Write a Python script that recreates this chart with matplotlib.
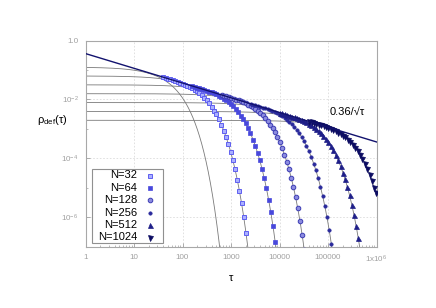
import numpy as np
import matplotlib
matplotlib.use("Agg")
import matplotlib.pyplot as plt
from matplotlib.patches import Rectangle
from matplotlib.ticker import FixedLocator, NullFormatter

plt.rcParams['font.family'] = ['Liberation Sans', 'DejaVu Sans']
plt.rcParams['mathtext.fontset'] = 'custom'
plt.rcParams['mathtext.rm'] = 'Liberation Sans'
plt.rcParams['mathtext.it'] = 'Liberation Sans:italic'

# --- data ---
labels = ["N=32", "N=64", "N=128", "N=256", "N=512", "N=1024"]

tau_32 = [40, 45, 50, 56, 63, 71, 80, 90, 100, 112, 125, 140, 158, 178, 200, 224, 250, 280,
          315, 355, 400, 450, 500, 560, 630, 710, 790, 880, 980, 1090, 1210, 1340, 1490,
          1650, 1830, 2030, 2250]
rho_32 = [0.0564, 0.0532, 0.0505, 0.0477, 0.0448, 0.0421, 0.0394, 0.0368, 0.0345, 0.0320,
          0.0295, 0.0269, 0.0241, 0.0214, 0.0187, 0.0162, 0.0139, 0.0116, 0.0094, 0.0074,
          0.0056, 0.0042, 0.0031, 0.0021, 0.0014, 8.7e-4, 5.3e-4, 3.1e-4, 1.7e-4, 8.8e-5,
          4.3e-5, 1.9e-5, 7.9e-6, 3.0e-6, 1.0e-6, 3.0e-7, 8e-8]

tau_64 = [160, 180, 200, 224, 252, 284, 320, 360, 400, 448, 500, 560, 632, 712, 800, 896,
          1000, 1120, 1260, 1420, 1600, 1800, 2000, 2240, 2520, 2840, 3160, 3520, 3920,
          4360, 4840, 5360, 5960, 6600, 7320, 8120, 9000]
rho_64 = [0.0282, 0.0266, 0.0253, 0.0239, 0.0224, 0.0211, 0.0197, 0.0184, 0.0173, 0.0160,
          0.0148, 0.0135, 0.0121, 0.0107, 0.0094, 0.0081, 0.0070, 0.0058, 0.0047, 0.0037,
          0.0028, 0.0021, 0.00155, 0.00105, 7.0e-4, 4.35e-4, 2.65e-4, 1.55e-4, 8.5e-5,
          4.4e-5, 2.15e-5, 9.5e-6, 3.95e-6, 1.5e-6, 5.0e-7, 1.5e-7, 4e-8]

tau_128 = [640, 720, 800, 896, 1008, 1136, 1280, 1440, 1600, 1792, 2000, 2240, 2528, 2848,
           3200, 3584, 4000, 4480, 5040, 5680, 6400, 7200, 8000, 8960, 10080, 11360, 12640,
           14080, 15680, 17440, 19360, 21440, 23840, 26400, 29280, 32480]
rho_128 = [0.0141, 0.0133, 0.0126, 0.0119, 0.0112, 0.0105, 0.0099, 0.0092, 0.0086, 0.0080,
           0.0074, 0.0067, 0.0060, 0.0054, 0.0047, 0.0041, 0.0035, 0.0029, 0.00235, 0.00185,
           0.0014, 0.00105, 0.00078, 0.00053, 0.00035, 0.00022, 0.00013, 7.8e-5, 4.3e-5,
           2.2e-5, 1.08e-5, 4.8e-6, 2.0e-6, 7.5e-7, 2.5e-7, 7.5e-8]

tau_256 = [2560, 2880, 3200, 3584, 4032, 4544, 5120, 5760, 6400, 7168, 8000, 8960, 10112,
           11392, 12800, 14336, 16000, 17920, 20160, 22720, 25600, 28800, 32000, 35840,
           40320, 45440, 50560, 56320, 62720, 69760, 77440, 85760, 95360, 105600, 117120]
rho_256 = [0.00705, 0.00665, 0.00631, 0.00596, 0.0056, 0.00526, 0.00493, 0.0046, 0.00431,
           0.0040, 0.00369, 0.00336, 0.00301, 0.00268, 0.00234, 0.00203, 0.00174, 0.00145,
           0.00118, 0.00093, 0.0007, 0.00053, 0.00039, 0.00026, 0.000175, 0.000109, 6.6e-5,
           3.9e-5, 2.1e-5, 1.1e-5, 5.4e-6, 2.4e-6, 9.9e-7, 3.75e-7, 1.25e-7]

tau_512 = [10240, 11520, 12800, 14336, 16128, 18176, 20480, 23040, 25600, 28672, 32000,
           35840, 40448, 45568, 51200, 57344, 64000, 71680, 80640, 90880, 102400, 115200,
           128000, 143360, 161280, 181760, 202240, 225280, 250880, 279040, 309760, 343040,
           381440, 422400, 468480]
rho_512 = [0.00353, 0.00333, 0.00316, 0.00298, 0.0028, 0.00263, 0.00246, 0.0023, 0.00216,
           0.0020, 0.00184, 0.00168, 0.00151, 0.00134, 0.00117, 0.00101, 0.00087, 0.000725,
           0.00059, 0.00046, 0.00035, 0.00026, 0.000194, 0.000131, 8.75e-5, 5.4e-5, 3.3e-5,
           1.94e-5, 1.06e-5, 5.5e-6, 2.7e-6, 1.19e-6, 4.9e-7, 1.9e-7, 6.3e-8]

tau_1024 = [41000, 46000, 51000, 57000, 64500, 72700, 81900, 92200, 102000, 115000, 128000,
            143000, 162000, 182000, 205000, 229000, 256000, 287000, 323000, 364000, 410000,
            461000, 512000, 573000, 645000, 727000, 809000, 901000, 965000]
rho_1024 = [0.00176, 0.00166, 0.00158, 0.00149, 0.0014, 0.00132, 0.00123, 0.00115, 0.00108,
            0.0010, 0.00092, 0.00084, 0.00075, 0.00067, 0.00058, 0.00051, 0.00043, 0.00036,
            0.00029, 0.00023, 0.000175, 0.000131, 9.7e-5, 6.6e-5, 4.4e-5, 2.7e-5, 1.66e-5,
            9.7e-6, 6.4e-6]

# late-time fits rho ~ A exp(-tau/T) (gray curves), N = 16 ... 1024
fit_A = [1/8, 1/16, 1/32, 1/64, 1/128, 1/256, 1/512]
fit_T = [41.5, 166, 664, 2654, 10617, 42467, 169870]
power_amp = 0.36

series = [
    (tau_32, rho_32, dict(marker="s", ms=3.2, mfc="#aab0ff", mec="#5f5ff0", mew=0.7)),
    (tau_64, rho_64, dict(marker="s", ms=2.3, mfc="#4848dc", mec="#4848dc", mew=0.5)),
    (tau_128, rho_128, dict(marker="o", ms=3.3, mfc="#8c8ce0", mec="#3c3cb4", mew=0.7)),
    (tau_256, rho_256, dict(marker="o", ms=2.4, mfc="#2a2a9c", mec="#2a2a9c", mew=0.5)),
    (tau_512, rho_512, dict(marker="^", ms=3.6, mfc="#1e1e88", mec="#1e1e88", mew=0.5)),
    (tau_1024, rho_1024, dict(marker="v", ms=3.6, mfc="#0c0c62", mec="#0c0c62", mew=0.5)),
]

fig = plt.figure(figsize=(4.36, 3.08), dpi=100)
ax = fig.add_axes([85.5/436, 1-246.7/308, 291/436, 206.2/308])

tt = np.logspace(0, 6, 800)
for A, T in zip(fit_A, fit_T):
    ax.plot(tt, A*np.exp(-tt/T), color="#7a7a7a", lw=0.6, zorder=2)

for t, r, st in series:
    ax.plot(t, r, ls="none", zorder=3, **st)

ax.plot(tt, power_amp/np.sqrt(tt), color="#12126e", lw=1.0, zorder=4)

ax.set_xscale("log"); ax.set_yscale("log")
ax.set_xlim(1, 1e6); ax.set_ylim(1e-7, 1)

ax.xaxis.set_major_locator(FixedLocator([1, 10, 100, 1e3, 1e4, 1e5, 1e6]))
ax.set_xticklabels(["1", "10", "100", "1000", "10000", "100000", "1x10$^6$"])
xminor = [m*10**d for d in range(6) for m in range(2, 10)]
ax.xaxis.set_minor_locator(FixedLocator(xminor))
ax.xaxis.set_minor_formatter(NullFormatter())
ax.yaxis.set_major_locator(FixedLocator([1, 1e-2, 1e-4, 1e-6]))
ax.set_yticklabels(["1.0", "10$^{-2}$", "10$^{-4}$", "10$^{-6}$"])
ax.yaxis.set_minor_locator(FixedLocator([1e-1, 1e-3, 1e-5, 1e-7]))
ax.yaxis.set_minor_formatter(NullFormatter())

ax.tick_params(which="both", direction="in", color="#a0a0a0", top=False, right=False)
ax.tick_params(which="major", length=3, width=0.6, labelsize=5.8, labelcolor="#a0a0a0", pad=5)
ax.tick_params(which="minor", length=1.5, width=0.5)
for s in ax.spines.values():
    s.set_color("#a8a8a8"); s.set_linewidth(0.8)
ax.grid(True, which="major", color="#dcdcdc", lw=0.6, ls=(0, (2, 2)))
ax.set_axisbelow(True)

fig.text(52.5/436, 1-120/308, r"ρ$_{\rm def}$(τ)", fontsize=8, ha="center", va="center")
fig.text(231/436, 1-278/308, "τ", fontsize=8, ha="center", va="center")
fig.text(347/436, 1-112/308, "0.36/√τ", fontsize=8, ha="center", va="center")

# legend drawn by hand: right-aligned labels, marker to the right
ax_w, ax_h = 291.0, 206.2
def ax_xy(px, py):
    return (px - 85.5)/ax_w, (246.7 - py)/ax_h

x0, y0 = ax_xy(92.3, 243.3)
x1, y1 = ax_xy(163.3, 169.3)
ax.add_patch(Rectangle((x0, y0), x1 - x0, y1 - y0, transform=ax.transAxes,
                       facecolor="white", edgecolor="#909090", lw=0.8, zorder=6))
for i, ((t, r, st), lab) in enumerate(zip(series, labels)):
    py = 175.5 + i*12.4
    tx, ty = ax_xy(137, py)
    mx, _ = ax_xy(150, py)
    ax.text(tx, ty, lab, transform=ax.transAxes, ha="right", va="center",
            fontsize=8, zorder=7)
    ax.plot([mx], [ty], transform=ax.transAxes, ls="none", clip_on=False, zorder=7, **st)

plt.savefig("out.png", dpi=100)
plt.close()
